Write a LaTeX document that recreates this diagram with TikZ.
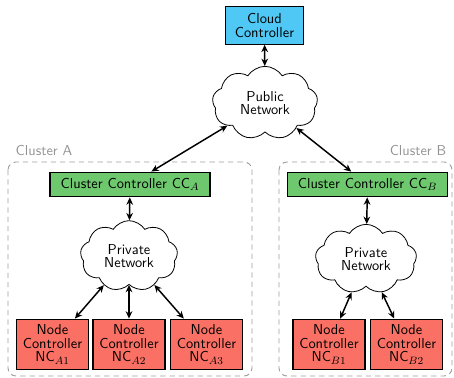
\documentclass[tikz,border=0pt]{standalone}
\usetikzlibrary{shapes.symbols,arrows.meta}
\definecolor{ccyan}{RGB}{80,200,245}
\definecolor{cgreen}{RGB}{110,200,110}
\definecolor{cred}{RGB}{250,112,100}
\begin{document}
\begin{tikzpicture}[x=0.75pt,y=-0.75pt,
  font=\sffamily\fontsize{10.8}{11.2}\selectfont,
  box/.style={draw=black,line width=0.9pt,inner sep=1pt,align=center},
  netcloud/.style={cloud,cloud puffs=9,cloud puff arc=115,draw=black,line width=0.6pt,fill=white,align=center,cloud ignores aspect,inner sep=0pt},
  link/.style={{Stealth[length=5.5pt,width=5pt]}-{Stealth[length=5.5pt,width=5pt]},line width=1.1pt},
  cluster/.style={draw=gray!75,line width=0.7pt,rounded corners=6pt,dash pattern=on 4pt off 3pt},
  clabel/.style={text=gray!85}]
\useasboundingbox (0,0) rectangle (454,378);
% clusters
\draw[cluster] (8,162) rectangle (252,376);
\draw[cluster] (279,162) rectangle (452,376);
\node[clabel,anchor=west] (la) at (11,150) {Cluster A};
\node[clabel,anchor=east] (lb) at (451,150) {Cluster B};
% nodes
\node[box,fill=ccyan,minimum width=58pt,minimum height=28pt] (cloudc) at (264.5,25.5) {Cloud\\[-1pt]Controller};
\node[netcloud,minimum width=79pt,minimum height=55pt] (pub) at (265,103) {Public\\[-1pt]Network};
\node[box,fill=cgreen,minimum width=120pt,minimum height=18.5pt] (cca) at (130,184.5) {Cluster Controller CC$_{A}$};
\node[box,fill=cgreen,minimum width=120pt,minimum height=18.5pt] (ccb) at (367.5,184.5) {Cluster Controller CC$_{B}$};
\node[netcloud,minimum width=73pt,minimum height=53pt] (pna) at (129,256) {Private\\[-1pt]Network};
\node[netcloud,minimum width=76pt,minimum height=52pt] (pnb) at (366,259) {Private\\[-1pt]Network};
\foreach \n/\x/\lab in {nca1/52.5/A1,nca2/129/A2,nca3/206.5/A3,ncb1/329/B1,ncb2/406.5/B2}{
  \node[box,fill=cred,minimum width=54pt,minimum height=38pt] (\n) at (\x,344.5) {Node\\[-1pt]Controller\\[-1pt]NC$_{\lab}$};
}
% links
\draw[link] (cloudc) -- (pub);
\draw[link] (cca) -- (pub);
\draw[link] (ccb) -- (pub);
\draw[link] (cca) -- (pna);
\draw[link] (ccb) -- (pnb);
\draw[link] (pna) -- (nca1);
\draw[link] (pna) -- (nca2);
\draw[link] (pna) -- (nca3);
\draw[link] (pnb) -- (ncb1);
\draw[link] (pnb) -- (ncb2);
\end{tikzpicture}
\end{document}
